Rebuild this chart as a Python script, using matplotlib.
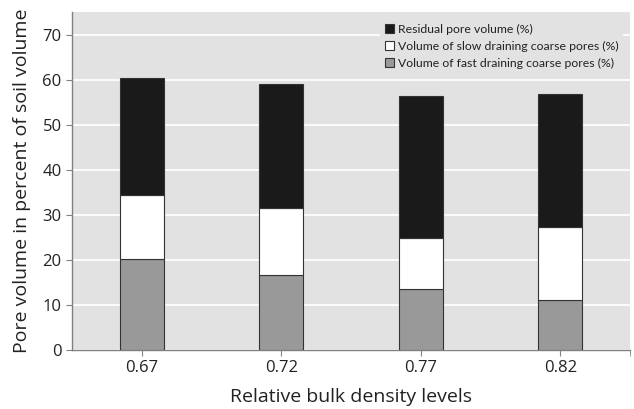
import matplotlib
matplotlib.use("Agg")
import matplotlib.pyplot as plt
import numpy as np

categories = ["0.67", "0.72", "0.77", "0.82"]
fast = [20.1, 16.6, 13.6, 11.1]
slow = [14.4, 15.0, 11.3, 16.1]
residual = [25.9, 27.4, 31.5, 29.6]

plt.rcParams['font.family'] = ['Open Sans', 'DejaVu Sans']

fig = plt.figure(figsize=(6.34, 4.09), dpi=100)
ax = fig.add_axes([0.1136, 0.1443, 0.8801, 0.8264])
bg = "#e2e2e2"
ax.set_facecolor(bg)

x = np.arange(len(categories))
w = 0.315
fast_a = np.array(fast)
slow_a = np.array(slow)
res_a = np.array(residual)
ec = "#333333"
b1 = ax.bar(x, fast_a, w, color="#999999", edgecolor=ec, linewidth=0.8, zorder=3,
            label="Volume of fast draining coarse pores (%)")
b2 = ax.bar(x, slow_a, w, bottom=fast_a, color="white", edgecolor=ec, linewidth=0.8, zorder=3,
            label="Volume of slow draining coarse pores (%)")
b3 = ax.bar(x, res_a, w, bottom=fast_a + slow_a, color="#1a1a1a", edgecolor=ec, linewidth=0.8, zorder=3,
            label="Residual pore volume (%)")

ax.set_xlim(-0.5, 3.5)
ax.set_ylim(0, 75)
ax.set_yticks(np.arange(0, 80, 10))
ax.set_xticks(x)
ax.set_xticklabels(categories)
ax.set_xticks([3.5], minor=True)
ax.grid(axis='y', color='white', linewidth=1.2, zorder=0)
ax.set_axisbelow(True)

for s in ['top', 'right']:
    ax.spines[s].set_visible(False)
for s in ['left', 'bottom']:
    ax.spines[s].set_color('#808080')
    ax.spines[s].set_linewidth(1.0)
ax.tick_params(axis='both', which='both', colors='#808080', labelcolor='#222222', labelsize=12, length=4)
ax.tick_params(axis='x', which='minor', length=4)

ax.set_xlabel("Relative bulk density levels", fontsize=14, color='#222222', labelpad=8)
ax.set_ylabel("Pore volume in percent of soil volume", fontsize=14, color='#222222', labelpad=8)

leg = ax.legend(handles=[b3, b2, b1], loc='upper left', bbox_to_anchor=(0.552, 0.98),
                prop={'family': ['Lato', 'DejaVu Sans'], 'size': 8.8},
                frameon=True, facecolor=bg, edgecolor='none', framealpha=1,
                handlelength=0.75, handleheight=0.75, handletextpad=0.3, labelspacing=0.5,
                borderaxespad=0.0)
for t in leg.get_texts():
    t.set_color('#222222')

fig.savefig("out.png", dpi=100)
